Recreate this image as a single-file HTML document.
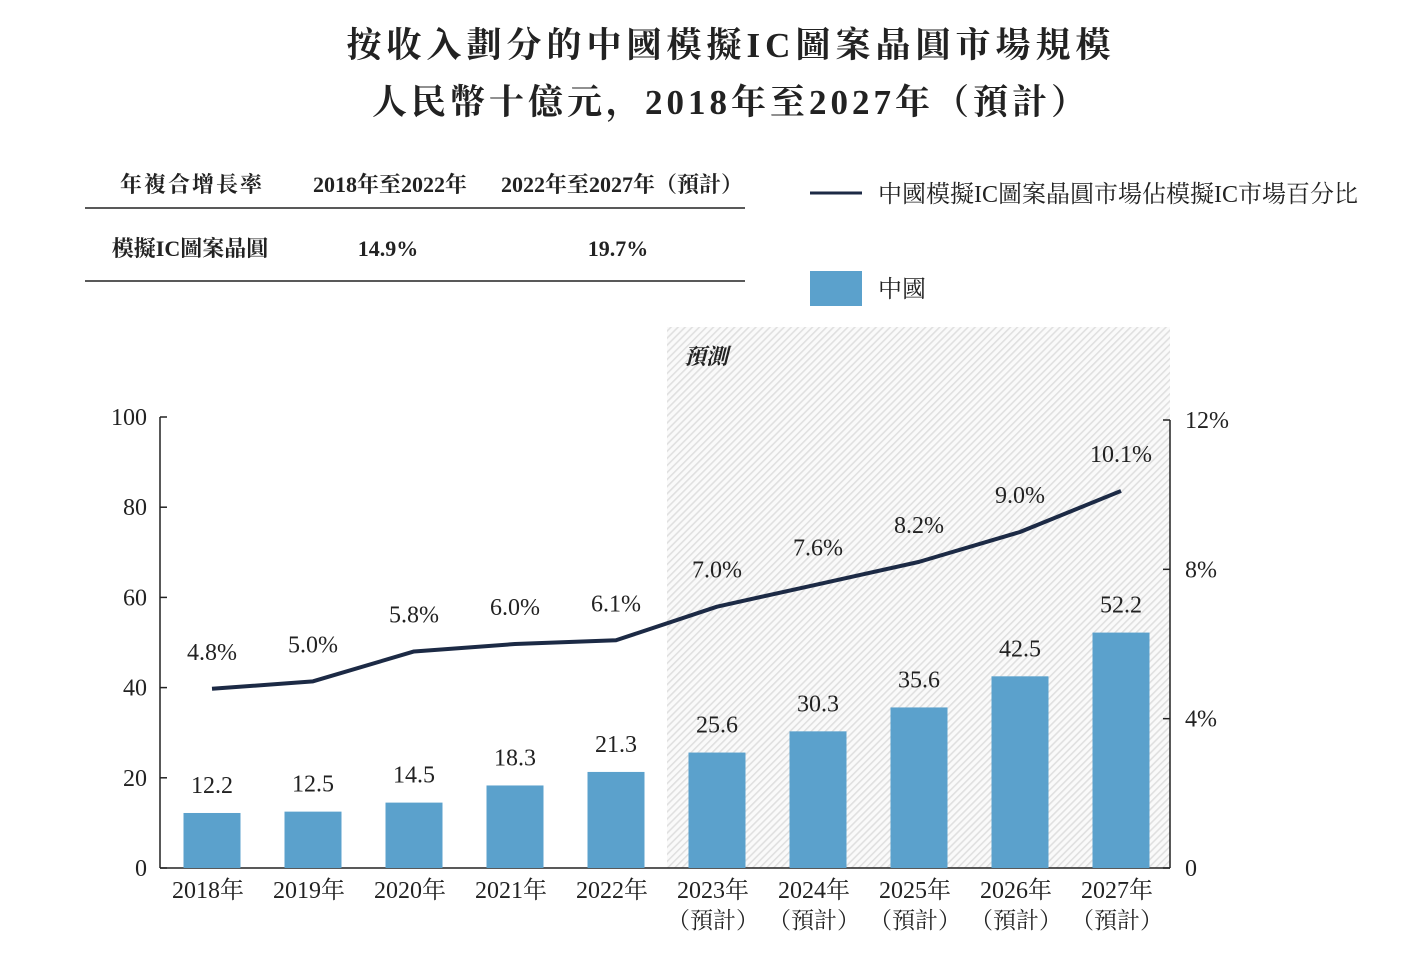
<!DOCTYPE html>
<html><head><meta charset="utf-8">
<style>
body{margin:0;background:#fff;}
svg text{font-family:"Liberation Serif","Noto Serif CJK SC",serif;fill:#222;}
</style></head>
<body>
<svg width="1404" height="972" viewBox="0 0 1404 972">
<defs>
<pattern id="hatch" width="5" height="5" patternUnits="userSpaceOnUse" patternTransform="rotate(45)">
<rect width="5" height="5" fill="#fafafa"/>
<rect x="0" y="0" width="1.6" height="5" fill="#e0e0e0"/>
</pattern>
</defs>
<g>
<text x="731" y="57" text-anchor="middle" font-size="35" font-weight="bold" letter-spacing="5">按收入劃分的中國模擬IC圖案晶圓市場規模</text>
<text x="731" y="114" text-anchor="middle" font-size="35" font-weight="bold" letter-spacing="4">人民幣十億元，2018年至2027年（預計）</text>
</g>
<g>
<text x="192" y="192" text-anchor="middle" font-weight="bold" font-size="22" letter-spacing="2">年複合增長率</text>
<text x="390" y="192" text-anchor="middle" font-weight="bold" font-size="22">2018年至2022年</text>
<text x="622" y="192" text-anchor="middle" font-weight="bold" font-size="22">2022年至2027年（預計）</text>
<line x1="85" y1="208" x2="745" y2="208" stroke="#222" stroke-width="1.5"/>
<text x="190" y="256" text-anchor="middle" font-weight="bold" font-size="22">模擬IC圖案晶圓</text>
<text x="388" y="256" text-anchor="middle" font-weight="bold" font-size="22">14.9%</text>
<text x="618" y="256" text-anchor="middle" font-weight="bold" font-size="22">19.7%</text>
<line x1="85" y1="281" x2="745" y2="281" stroke="#222" stroke-width="1.5"/>
</g>
<g>
<line x1="810" y1="193" x2="862" y2="193" stroke="#1c2a45" stroke-width="3"/>
<text x="878" y="202" font-size="24">中國模擬IC圖案晶圓市場佔模擬IC市場百分比</text>
<rect x="810" y="271" width="52" height="35" fill="#5ba1cc"/>
<text x="878" y="297" font-size="24">中國</text>
</g>
<rect x="667" y="327" width="503" height="541" fill="url(#hatch)"/>
<text x="684" y="364" font-size="22" font-weight="bold" font-style="italic">預測</text>
<g id="plot"></g>
</svg>
<script>
const categories=["2018年","2019年","2020年","2021年","2022年","2023年","2024年","2025年","2026年","2027年"];
const marketValues=[12.2,12.5,14.5,18.3,21.3,25.6,30.3,35.6,42.5,52.2];
const shareValues=[4.8,5.0,5.8,6.0,6.1,7.0,7.6,8.2,9.0,10.1];
const leftTicks=[0,20,40,60,80,100];
const rightTicks=[0,4,8,12];
const forecastFrom=5;

const NS="http://www.w3.org/2000/svg";
const g=document.getElementById('plot');
const x0=160,x1=1170,yb=868,yt=417;
const step=101, firstC=212;
const xPos=i=>firstC+i*step;
const yL=v=>yb-(yb-yt)*v/100;
const yR=v=>yb-(yb-420)*v/12;
function el(t,a,txt){const e=document.createElementNS(NS,t);for(const k in a)e.setAttribute(k,a[k]);if(txt!==undefined)e.textContent=txt;g.appendChild(e);return e;}

let e=el('line',{x1:x0,y1:yt,x2:x0,y2:yb,stroke:'#222','stroke-width':1.5});


e=el('line',{x1:x1,y1:420,x2:x1,y2:yb,stroke:'#222','stroke-width':1.5});


e=el('line',{x1:x0,y1:yb,x2:x1,y2:yb,stroke:'#222','stroke-width':1.5});



leftTicks.forEach(v=>{
 el('line',{x1:x0,y1:yL(v),x2:x0+7,y2:yL(v),stroke:'#222','stroke-width':1.5});
 e=el('text',{x:x0-13,y:yL(v)+8,'text-anchor':'end','font-size':24},String(v));
 
 
});
rightTicks.forEach(v=>{
 el('line',{x1:x1-7,y1:yR(v),x2:x1,y2:yR(v),stroke:'#222','stroke-width':1.5});
 e=el('text',{x:x1+15,y:yR(v)+8,'font-size':24},v+(v===0?'':'%'));
 
 
});

marketValues.forEach((v,i)=>{
 const b=el('rect',{x:xPos(i)-28.5,y:yL(v),width:57,height:yb-yL(v),fill:'#5ba1cc'});
 
 
 const t=el('text',{x:xPos(i),y:yL(v)-20,'text-anchor':'middle','font-size':24},v.toFixed(1));
 
 
 const c=el('text',{x:xPos(i)-4,y:898,'text-anchor':'middle','font-size':24},categories[i]);
 
 
 if(i>=forecastFrom){
  const f=el('text',{x:xPos(i)-4,y:928,'text-anchor':'middle','font-size':23},'（預計）');
  
  
 }
});

const pts=shareValues.map((v,i)=>xPos(i)+','+yR(v)).join(' ');
const pl=el('polyline',{points:pts,fill:'none',stroke:'#1c2a45','stroke-width':4,'stroke-linejoin':'round'});


shareValues.forEach((v,i)=>{
 const t=el('text',{x:xPos(i),y:yR(v)-29,'text-anchor':'middle','font-size':24},v.toFixed(1)+'%');
 
 
});
</script>
</body></html>
